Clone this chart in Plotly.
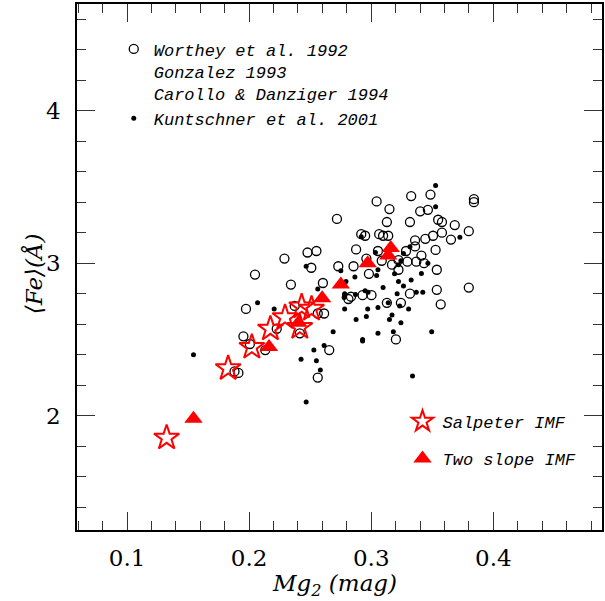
import plotly.graph_objects as go

# Worthey et al. 1992 / Gonzalez 1993 / Carollo & Danziger 1994 (open circles)
open_mg2 = [0.3044, 0.3327, 0.3485, 0.3841, 0.3841, 0.3149, 0.3401, 0.3464, 0.2719, 0.3128,
            0.3317, 0.3548, 0.3579, 0.3684, 0.3799, 0.3579, 0.3506, 0.3653, 0.3443, 0.2918,
            0.2950, 0.3065, 0.3097, 0.3139, 0.3359, 0.3359, 0.3285, 0.3055, 0.2876, 0.3527,
            0.3411, 0.3432, 0.3369, 0.3296, 0.3086, 0.2960, 0.2855, 0.2730, 0.3223, 0.3170,
            0.3537, 0.2981, 0.3799, 0.3537, 0.3317, 0.3128, 0.3243, 0.3569, 0.2834, 0.2929,
            0.3002, 0.2604, 0.2478, 0.2551, 0.2289, 0.2509, 0.2048, 0.2342, 0.1974, 0.2373,
            0.2562, 0.2614, 0.1953, 0.2006, 0.2132, 0.2226, 0.2415, 0.2656, 0.1880, 0.1912,
            0.2562, 0.3202, 0.2813, 0.3223]
open_fe = [3.405, 3.44, 3.45, 3.42, 3.40, 3.355, 3.34, 3.35, 3.29, 3.27,
           3.27, 3.285, 3.27, 3.25, 3.21, 3.20, 3.18, 3.155, 3.16, 3.19,
           3.18, 3.19, 3.18, 3.18, 3.15, 3.11, 3.08, 3.08, 3.09, 3.087,
           3.05, 3.00, 3.01, 3.01, 3.016, 3.03, 2.98, 2.98, 2.957, 2.99,
           2.957, 2.93, 2.84, 2.825, 2.80, 2.74, 2.74, 2.73, 2.78, 2.79,
           2.79, 2.87, 3.07, 3.08, 3.03, 2.97, 2.925, 2.86, 2.70, 2.72,
           2.67, 2.67, 2.52, 2.47, 2.43, 2.57, 2.54, 2.43, 2.29, 2.28,
           2.25, 2.50, 2.765, 3.02]

# Kuntschner et al. 2001 (filled dots)
dot_mg2 = [0.3527, 0.3527, 0.3726, 0.2918, 0.3034, 0.3264, 0.3317, 0.3243, 0.3223, 0.2751,
           0.2866, 0.3044, 0.3055, 0.3191, 0.3411, 0.3464, 0.3327, 0.3223, 0.3264, 0.3097,
           0.2793, 0.2782, 0.2950, 0.3212, 0.3369, 0.3422, 0.2782, 0.2971, 0.3055, 0.3139,
           0.3233, 0.3306, 0.3170, 0.3149, 0.3243, 0.2960, 0.2876, 0.2688, 0.3055, 0.2929,
           0.2929, 0.3181, 0.3495, 0.2614, 0.2583, 0.3338, 0.2530, 0.2425, 0.2551, 0.1544,
           0.2467, 0.2467, 0.2562, 0.2069, 0.2205, 0.2782, 0.2871, 0.2778, 0.2974]
dot_fe = [3.51, 3.37, 3.17, 3.174, 3.07, 3.064, 3.108, 3.016, 2.99, 2.95,
          2.91, 2.92, 2.957, 2.93, 2.933, 3.00, 2.89, 2.88, 2.85, 2.84,
          2.88, 2.79, 2.82, 2.80, 2.81, 2.81, 2.70, 2.70, 2.71, 2.74,
          2.72, 2.70, 2.66, 2.63, 2.61, 2.65, 2.63, 2.55, 2.54, 2.50,
          2.49, 2.55, 2.55, 2.46, 2.30, 2.26, 2.43, 2.37, 2.36, 2.40,
          2.09, 2.98, 2.83, 2.74, 2.70, 2.80, 2.795, 2.775, 2.81]

# Models
salp_mg2 = [0.1324, 0.1828, 0.2022, 0.2174, 0.2294, 0.2415, 0.2430, 0.2511]
salp_fe = [1.855, 2.31, 2.45, 2.57, 2.645, 2.58, 2.715, 2.70]

two_mg2 = [0.1544, 0.2163, 0.2404, 0.2598, 0.2751, 0.2971, 0.3139, 0.3160]
two_fe = [1.98, 2.45, 2.61, 2.77, 2.86, 3.00, 3.05, 3.10]

x_ticks = [0.1, 0.2, 0.3, 0.4]
y_ticks = [2, 3, 4]

SERIF = "DejaVu Serif"
LEGFONT = "Liberation Mono"

fig = go.Figure()
fig.add_trace(go.Scatter(
    x=open_mg2, y=open_fe, mode="markers",
    name="Worthey et al. 1992<br>Gonzalez 1993<br>Carollo & Danziger 1994",
    marker=dict(symbol="circle-open", size=9, color="black", line=dict(width=1.3)),
    legend="legend"))
fig.add_trace(go.Scatter(
    x=dot_mg2, y=dot_fe, mode="markers", name="Kuntschner et al. 2001",
    marker=dict(symbol="circle", size=5, color="black"),
    legend="legend"))
fig.add_trace(go.Scatter(
    x=salp_mg2, y=salp_fe, mode="markers", name="Salpeter IMF",
    marker=dict(symbol="star-open", size=19, color="red", line=dict(width=2, color="red")),
    legend="legend2", legendgroup="salp"))
fig.add_trace(go.Scatter(
    x=two_mg2, y=two_fe, mode="markers", name="Two slope IMF",
    marker=dict(symbol="triangle-up", size=16, color="red"),
    legend="legend2", legendgroup="two"))

axis_common = dict(
    showgrid=False, zeroline=False, showline=True, linecolor="black", linewidth=1.5,
    mirror="allticks", ticks="inside", tickcolor="#333", tickwidth=1,
    tickfont=dict(family=SERIF, size=23, color="black"),
)
fig.update_xaxes(range=[0.059, 0.489], tickvals=x_ticks, ticktext=[str(v) for v in x_ticks],
                 ticklen=18, ticklabelstandoff=7,
                 minor=dict(dtick=0.02, tick0=0.0, ticks="inside", ticklen=9, tickcolor="#333"),
                 **axis_common)
fig.update_yaxes(range=[1.25, 4.7], tickvals=y_ticks, ticktext=[str(v) for v in y_ticks],
                 ticklen=18, ticklabelstandoff=10,
                 minor=dict(dtick=0.2, tick0=0.0, ticks="inside", ticklen=9, tickcolor="#333"),
                 **axis_common)

fig.add_annotation(text="<i>Mg<sub>2</sub> (mag)</i>", xref="paper", yref="paper",
                   x=0.49, y=-0.104, xanchor="center", yanchor="middle", showarrow=False,
                   font=dict(family=SERIF, size=23, color="black"))
fig.add_annotation(text="<i>⟨Fe⟩(Å)</i>", xref="paper", yref="paper",
                   x=-0.083, y=0.487, xanchor="center", yanchor="middle", showarrow=False,
                   textangle=-90, font=dict(family=SERIF, size=23, color="black"))

fig.update_layout(
    width=605, height=601,
    margin=dict(l=77, r=1, t=4, b=71),
    paper_bgcolor="white", plot_bgcolor="white",
    showlegend=True,
    legend=dict(x=0.07, y=0.948, xanchor="left", yanchor="top", valign="top",
                bgcolor="rgba(0,0,0,0)",
                font=dict(family=LEGFONT, size=17, color="black", style="italic"),
                itemsizing="trace", tracegroupgap=0),
    legend2=dict(x=0.62, y=0.24, xanchor="left", yanchor="top",
                 bgcolor="rgba(0,0,0,0)",
                 font=dict(family=LEGFONT, size=17, color="black", style="italic"),
                 itemsizing="trace", tracegroupgap=12),
)

fig.write_html("out.html")
